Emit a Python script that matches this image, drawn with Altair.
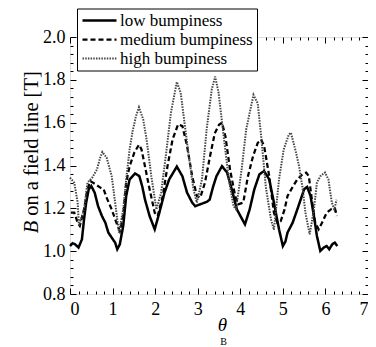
import altair as alt
import pandas as pd

# ---- data ----
series_names = ["low bumpiness", "medium bumpiness", "high bumpiness"]

low_theta = [0, 0.06, 0.12, 0.2, 0.28, 0.33, 0.38, 0.44, 0.5, 0.58, 0.66, 0.75, 0.83, 0.9,
             0.98, 1.06, 1.11, 1.17, 1.25, 1.32, 1.4, 1.53, 1.63, 1.7, 1.76, 1.87, 1.99, 2.1,
             2.22, 2.33, 2.51, 2.64, 2.75, 2.87, 2.94, 3.06, 3.21, 3.28, 3.36, 3.44, 3.57, 3.69,
             3.8, 3.92, 4.11, 4.22, 4.33, 4.45, 4.56, 4.68, 4.79, 4.91, 5.0, 5.06, 5.11, 5.23,
             5.34, 5.42, 5.5, 5.57, 5.65, 5.73, 5.8, 5.88, 5.96, 6.03, 6.09, 6.16, 6.22, 6.28]
low_B = [1.024, 1.037, 1.032, 1.017, 1.055, 1.149, 1.227, 1.289, 1.304, 1.273, 1.21, 1.164,
         1.133, 1.087, 1.063, 1.04, 1.009, 1.032, 1.118, 1.258, 1.335, 1.363, 1.35, 1.30, 1.242,
         1.164, 1.102, 1.18, 1.273, 1.335, 1.395, 1.35, 1.273, 1.227, 1.21, 1.219, 1.23, 1.24,
         1.30, 1.35, 1.397, 1.367, 1.289, 1.195, 1.125, 1.195, 1.289, 1.359, 1.374, 1.335,
         1.227, 1.102, 1.024, 1.045, 1.087, 1.133, 1.195, 1.242, 1.289, 1.30, 1.258, 1.164,
         1.071, 1.001, 1.017, 1.024, 1.009, 1.032, 1.04, 1.024]

med_theta = [0.02, 0.1, 0.18, 0.23, 0.33, 0.41, 0.48, 0.6, 0.71, 0.79, 0.86, 0.98, 1.09, 1.17,
             1.25, 1.32, 1.4, 1.51, 1.62, 1.68, 1.76, 1.87, 1.99, 2.06, 2.18, 2.29, 2.41, 2.54,
             2.64, 2.75, 2.87, 2.98, 3.06, 3.17, 3.29, 3.4, 3.5, 3.57, 3.65, 3.76, 3.88, 3.95,
             4.07, 4.18, 4.3, 4.41, 4.49, 4.56, 4.68, 4.79, 4.87, 4.95, 5.04, 5.11, 5.23, 5.34,
             5.46, 5.55, 5.61, 5.69, 5.76, 5.84, 5.92, 6.03, 6.13, 6.18, 6.23, 6.27]
med_B = [1.18, 1.18, 1.133, 1.118, 1.195, 1.289, 1.327, 1.312, 1.297, 1.289, 1.25, 1.195,
         1.133, 1.094, 1.164, 1.32, 1.397, 1.46, 1.497, 1.475, 1.397, 1.289, 1.18, 1.164,
         1.258, 1.397, 1.522, 1.592, 1.584, 1.491, 1.35, 1.258, 1.25, 1.32, 1.444, 1.55, 1.59,
         1.60, 1.537, 1.38, 1.258, 1.219, 1.227, 1.35, 1.444, 1.506, 1.52, 1.491, 1.35, 1.18,
         1.133, 1.14, 1.195, 1.258, 1.30, 1.335, 1.359, 1.367, 1.35, 1.227, 1.133, 1.102,
         1.133, 1.18, 1.195, 1.187, 1.195, 1.164]

high_theta = [0, 0.1, 0.18, 0.21, 0.33, 0.41, 0.52, 0.63, 0.71, 0.76, 0.86, 0.98, 1.06, 1.15,
              1.25, 1.32, 1.4, 1.47, 1.55, 1.62, 1.72, 1.8, 1.91, 2.03, 2.14, 2.26, 2.37, 2.51,
              2.6, 2.68, 2.79, 2.9, 2.98, 3.1, 3.21, 3.33, 3.41, 3.49, 3.61, 3.73, 3.84, 3.9,
              4.03, 4.14, 4.31, 4.41, 4.49, 4.6, 4.72, 4.79, 4.91, 5.02, 5.14, 5.19, 5.31, 5.38,
              5.46, 5.53, 5.63, 5.73, 5.8, 5.88, 5.99, 6.07, 6.15, 6.21, 6.26]
high_B = [1.343, 1.32, 1.227, 1.12, 1.195, 1.32, 1.343, 1.38, 1.437, 1.463, 1.437, 1.35, 1.227,
          1.087, 1.195, 1.335, 1.475, 1.56, 1.63, 1.672, 1.615, 1.52, 1.35, 1.195, 1.273, 1.46,
          1.646, 1.79, 1.74, 1.615, 1.444, 1.289, 1.227, 1.335, 1.569, 1.755, 1.815, 1.74,
          1.537, 1.335, 1.21, 1.195, 1.38, 1.57, 1.73, 1.69, 1.537, 1.30, 1.149, 1.10, 1.335,
          1.475, 1.545, 1.553, 1.46, 1.397, 1.30, 1.18, 1.079, 1.195, 1.32, 1.35, 1.367, 1.335,
          1.227, 1.195, 1.24]

x_major = [0, 1, 2, 3, 4, 5, 6, 7]
x_minor = [round(i * 0.2, 2) for i in range(36) if i % 5 != 0]
y_major = [0.8, 1.0, 1.2, 1.4, 1.6, 1.8, 2.0]
y_minor = [round(0.8 + i * 0.04, 2) for i in range(31) if i % 5 != 0]

rows = []
for name, xs, ys in zip(series_names, [low_theta, med_theta, high_theta], [low_B, med_B, high_B]):
    for i, (a, b) in enumerate(zip(xs, ys)):
        rows.append({"theta": a, "B": b, "series": name, "order": i})
df = pd.DataFrame(rows)

# ---- layout ----
W, H = 298, 257
FONT = "Liberation Serif, Times New Roman, DejaVu Serif, serif"

xscale = alt.Scale(domain=[0, 7], nice=False, zero=False)
yscale = alt.Scale(domain=[0.8, 2.0], nice=False, zero=False)

legend = alt.Legend(
    orient="none", legendX=7, legendY=-28.5, title=None,
    symbolType="stroke", symbolSize=1156, clipHeight=16,
    labelFont=FONT, labelFontSize=17, labelColor="black", labelOffset=2,
    padding=4, rowPadding=2, strokeColor="black", fillColor="white",
)

base = alt.Chart(df)

lines = base.mark_line().encode(
    x=alt.X("theta:Q", scale=xscale, axis=alt.Axis(
        orient="bottom", grid=False, domain=False, ticks=False, values=x_major, format="d",
        labelPadding=6, labelFont=FONT, labelFontSize=18, labelColor="black",
        title="θ", titleFont=FONT, titleFontSize=19, titleFontStyle="italic",
        titleFontWeight="normal", titleColor="black", titleX=152, titleY=36,
        titleBaseline="alphabetic")),
    y=alt.Y("B:Q", scale=yscale, axis=alt.Axis(
        orient="left", grid=False, domain=False, ticks=False, values=y_major, format=".1f",
        labelPadding=5, labelFont=FONT, labelFontSize=18, labelColor="black",
        title="on a field line [T]", titleFont=FONT, titleFontSize=20.5, titleFontWeight="normal",
        titleColor="black", titleAngle=270, titleX=-33, titleY=106, titleAlign="center",
        titleBaseline="alphabetic")),
    color=alt.Color("series:N", scale=alt.Scale(domain=series_names, range=["black", "black", "#444444"]), legend=legend),
    strokeDash=alt.StrokeDash("series:N", scale=alt.Scale(domain=series_names, range=[[1, 0], [5, 3], [1.5, 1.2]]), legend=legend),
    strokeWidth=alt.StrokeWidth("series:N", scale=alt.Scale(domain=series_names, range=[2.5, 2.0, 1.3]), legend=legend),
    order="order:Q",
)


def tick_layer(x_orient, y_orient, xv, yv, size):
    return base.mark_line(opacity=0).encode(
        x=alt.X("theta:Q", scale=xscale, axis=alt.Axis(
            orient=x_orient, offset=-H, values=xv, tickSize=size, labels=False, domain=False,
            grid=False, title=None, tickColor="black", tickWidth=1)),
        y=alt.Y("B:Q", scale=yscale, axis=alt.Axis(
            orient=y_orient, offset=-W, values=yv, tickSize=size, labels=False, domain=False,
            grid=False, title=None, tickColor="black", tickWidth=1)),
        detail="series:N",
    )


subs = base.mark_line(opacity=0).encode(
    x=alt.X("theta:Q", scale=xscale, axis=alt.Axis(
        orient="bottom", labels=False, ticks=False, domain=False, grid=False,
        title="B", titleFont=FONT, titleFontSize=10, titleFontWeight="normal", titleColor="black",
        titleX=153, titleY=50, titleBaseline="alphabetic")),
    y=alt.Y("B:Q", scale=yscale, axis=alt.Axis(
        orient="left", labels=False, ticks=False, domain=False, grid=False,
        title="B", titleFont=FONT, titleFontSize=20.5, titleFontStyle="italic", titleFontWeight="normal",
        titleColor="black", titleAngle=270, titleX=-33, titleY=189.5, titleAlign="center",
        titleBaseline="alphabetic")),
    detail="series:N",
)

chart = alt.layer(
    subs,
    tick_layer("top", "right", x_major, y_major, 6),
    tick_layer("top", "right", x_minor, y_minor, 3),
    tick_layer("bottom", "left", x_major, y_major, 6),
    tick_layer("bottom", "left", x_minor, y_minor, 3),
    lines,
).resolve_axis(x="independent", y="independent").properties(
    width=W, height=H,
    autosize=alt.AutoSizeParams(type="none"),
    padding={"left": 62, "top": 29, "right": 0, "bottom": 54},
).configure_view(stroke="black", strokeWidth=1.5).configure(background="white")

chart.save("out.html", embed_options={"renderer": "svg", "actions": False})
